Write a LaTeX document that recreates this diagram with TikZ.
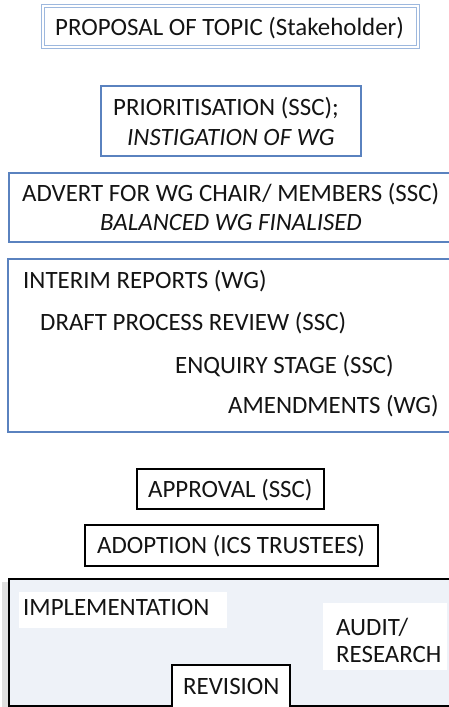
\documentclass[tikz,border=0pt]{standalone}
\usepackage{fontspec}
\setmainfont{Carlito}
\begin{document}
\begin{tikzpicture}[x=1pt,y=-1pt,
  txt/.style={inner sep=0pt, anchor=base west, text=txtC, font=\fontsize{24.9}{28}\selectfont},
  itxt/.style={txt, font=\fontsize{24.9}{28}\selectfont\itshape},
  lightbox/.style={draw=blueA, line width=1.6pt, double=white, double distance=1.2pt, fill=white},
  bluebox/.style={draw=blueB, line width=1.8pt, fill=white},
  blackbox/.style={draw=black, line width=2pt, fill=white},
  patch/.style={fill=white, draw=none}
]
\definecolor{blueA}{HTML}{9DB8DE}
\definecolor{blueB}{HTML}{5A82BF}
\definecolor{fillC}{HTML}{EEF2F8}
\definecolor{txtC}{HTML}{141414}
\useasboundingbox (0,0) rectangle (449,707);
\fill[white] (0,0) rectangle (449,707);
% box 1
\draw[lightbox] (43,6) rectangle (418,47);
\node[txt] (t1) at (55,35) {PROPOSAL OF TOPIC (Stakeholder)};
% box 2
\draw[bluebox] (101,86) rectangle (361,156);
\node[txt] (t2a) at (113,115) {PRIORITISATION (SSC);};
\node[itxt] (t2b) at (127,145) {INSTIGATION OF WG};
% box 3
\draw[bluebox] (9,173) rectangle (452,242);
\node[txt] (t3a) at (22,201) {ADVERT FOR WG CHAIR/ MEMBERS (SSC)};
\node[itxt] (t3b) at (100,230) {BALANCED WG FINALISED};
% box 4
\draw[bluebox] (8,259) rectangle (452,432);
\node[txt] (t4a) at (23,288) {INTERIM REPORTS (WG)};
\node[txt] (t4b) at (40,330) {DRAFT PROCESS REVIEW (SSC)};
\node[txt] (t4c) at (175,373) {ENQUIRY STAGE (SSC)};
\node[txt] (t4d) at (228,413) {AMENDMENTS (WG)};
% approval and adoption
\draw[blackbox] (137,469) rectangle (324,509);
\node[txt] (t5) at (148,497) {APPROVAL (SSC)};
\draw[blackbox] (85,525) rectangle (378,566);
\node[txt] (t6) at (97,553) {ADOPTION (ICS TRUSTEES)};
% bottom box
\fill[gray!25] (2,582) rectangle (9,707);
\draw[draw=black, line width=2pt, fill=fillC] (9,579) rectangle (453,706);
\fill[patch] (19,592) rectangle (227,628);
\node[txt] (t7) at (23,615) {IMPLEMENTATION};
\fill[patch] (323,603) rectangle (447,670);
\node[txt] (t8a) at (336,635) {AUDIT/};
\node[txt] (t8b) at (336,662) {RESEARCH};
\draw[blackbox] (172,665) rectangle (290,708);
\node[txt] (t9) at (183,694) {REVISION};
\end{tikzpicture}
\end{document}
